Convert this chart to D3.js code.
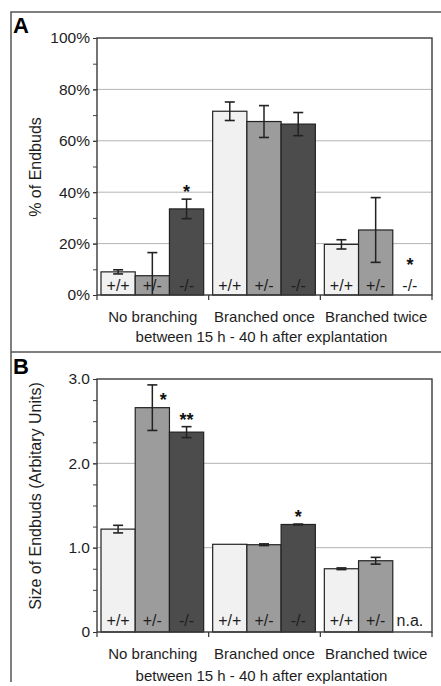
<!DOCTYPE html>
<html>
<head>
<meta charset="utf-8">
<script src="https://cdn.jsdelivr.net/npm/d3@7"></script>
<style>
  body { margin: 0; background: #fff; }
  svg text { font-family: "Liberation Sans", Arial, sans-serif; }
</style>
</head>
<body>
<div id="chart"></div>
<script>
// ----------------------------------------
// DATA
// ----------------------------------------
const categories = ["No branching", "Branched once", "Branched twice"];
const genotypes = ["+/+", "+/-", "-/-"];

const pctValues = [[9.0, 7.5, 33.5], [71.5, 67.5, 66.5], [19.7, 25.3, 0]];
const pctErrors = [[0.8, 9.0, 3.8], [3.6, 6.2, 4.5], [1.8, 12.6, 0]];
const pctStars = [["", "", "*"], ["", "", ""], ["", "", "*"]];
const pctTicks = [0, 20, 40, 60, 80, 100];
const pctTickLabels = ["0%", "20%", "40%", "60%", "80%", "100%"];

const sizeValues = [[1.22, 2.66, 2.37], [1.04, 1.035, 1.275], [0.75, 0.845, null]];
const sizeErrors = [[0.045, 0.27, 0.065], [0, 0.01, 0.005], [0.01, 0.04, null]];
const sizeStars = [["", "*", "**"], ["", "", "*"], ["", "", ""]];
const sizeTicks = [0, 1, 2, 3];
const sizeTickLabels = ["0", "1.0", "2.0", "3.0"];

const xTitle = "between 15 h - 40 h after explantation";


// ----------------------------------------
// SETUP
// ----------------------------------------
const width = 441, height = 686;
const plotLeft = 97, plotRight = 432;
const barFill = ["#f1f1f1", "#9c9c9c", "#4c4c4c"];
const ink = "#1e1e1e";

const svg = d3.select("#chart")
  .append("svg")
  .attr("width", width)
  .attr("height", height);

const xOuter = d3.scaleBand()
  .domain(categories)
  .range([0, plotRight - plotLeft]);

const xInner = d3.scaleBand()
  .domain(genotypes)
  .range([4, xOuter.bandwidth() - 5]);

// figure frame
svg.append("path")
  .attr("d", `M11,682 V12 H${width}`)
  .attr("fill", "none")
  .attr("stroke", "#555")
  .attr("stroke-width", 1.5);

svg.append("line")
  .attr("x1", 11).attr("x2", width)
  .attr("y1", 352).attr("y2", 352)
  .attr("stroke", "#555")
  .attr("stroke-width", 1.5);


// ----------------------------------------
// PANEL
// ----------------------------------------
function drawPanel(cfg) {
  const h = cfg.bottom - cfg.top;
  const w = plotRight - plotLeft;

  const g = svg.append("g")
    .attr("transform", `translate(${plotLeft},${cfg.top})`);

  const y = d3.scaleLinear().domain(cfg.domain).range([h, 0]);

  svg.append("text")
    .attr("x", 13)
    .attr("y", cfg.top - 5)
    .attr("fill", "#000")
    .style("font-size", "22px")
    .style("font-weight", "bold")
    .text(cfg.letter);

  // gridlines
  g.selectAll(".grid")
    .data(cfg.ticks.filter(t => t > cfg.domain[0] && t < cfg.domain[1]))
    .join("line")
    .attr("class", "grid")
    .attr("x1", 0).attr("x2", w)
    .attr("y1", d => y(d)).attr("y2", d => y(d))
    .attr("stroke", "#b4b4b4")
    .attr("stroke-width", 1);

  // minor ticks
  g.append("g")
    .attr("color", "#444")
    .call(d3.axisLeft(y).tickValues(cfg.minor).tickSize(4).tickFormat(""))
    .call(a => a.select(".domain").remove());

  // major ticks + labels
  g.append("g")
    .attr("color", "#333")
    .call(d3.axisLeft(y)
      .tickValues(cfg.ticks)
      .tickSize(4)
      .tickPadding(3)
      .tickFormat((d, i) => cfg.tickLabels[i]))
    .call(a => a.select(".domain").remove())
    .call(a => a.selectAll("text").attr("fill", ink).style("font-size", "15.5px"));

  // bars
  const cells = [];
  categories.forEach((c, i) => {
    genotypes.forEach((gt, j) => {
      cells.push({
        cat: c, gt: gt, j: j,
        value: cfg.values[i][j],
        err: cfg.errors[i][j],
        star: cfg.stars[i][j]
      });
    });
  });

  const cx = d => xOuter(d.cat) + xInner(d.gt) + xInner.bandwidth() / 2;

  g.selectAll(".bar")
    .data(cells.filter(d => d.value !== null && d.value > 0))
    .join("rect")
    .attr("class", "bar")
    .attr("x", d => xOuter(d.cat) + xInner(d.gt))
    .attr("y", d => y(d.value))
    .attr("width", xInner.bandwidth())
    .attr("height", d => y(0) - y(d.value))
    .attr("fill", d => barFill[d.j])
    .attr("stroke", "#222")
    .attr("stroke-width", 1.2);

  // error bars
  const withErr = cells.filter(d => d.value !== null && d.err > 0);
  const errLo = d => y(Math.max(cfg.domain[0], d.value - d.err));
  const errHi = d => y(d.value + d.err);

  g.selectAll(".err")
    .data(withErr)
    .join("line")
    .attr("class", "err")
    .attr("x1", cx).attr("x2", cx)
    .attr("y1", errLo).attr("y2", errHi)
    .attr("stroke", "#222")
    .attr("stroke-width", 1.5);

  g.selectAll(".cap-hi")
    .data(withErr)
    .join("line")
    .attr("class", "cap-hi")
    .attr("x1", d => cx(d) - 5).attr("x2", d => cx(d) + 5)
    .attr("y1", errHi).attr("y2", errHi)
    .attr("stroke", "#222")
    .attr("stroke-width", 1.6);

  g.selectAll(".cap-lo")
    .data(withErr.filter(d => d.value - d.err > cfg.domain[0]))
    .join("line")
    .attr("class", "cap-lo")
    .attr("x1", d => cx(d) - 5).attr("x2", d => cx(d) + 5)
    .attr("y1", errLo).attr("y2", errLo)
    .attr("stroke", "#222")
    .attr("stroke-width", 1.6);

  // plot box + axis lines
  g.append("rect")
    .attr("width", w)
    .attr("height", h)
    .attr("fill", "none")
    .attr("stroke", "#3a3a3a")
    .attr("stroke-width", 1.4);

  // genotype labels inside the bars
  g.selectAll(".gt")
    .data(cells)
    .join("text")
    .attr("class", "gt")
    .attr("x", cx)
    .attr("y", h - cfg.labelOffset)
    .attr("text-anchor", "middle")
    .attr("fill", ink)
    .style("font-size", "16px")
    .text(d => d.value === null ? "n.a." : d.gt);

  // significance stars
  g.selectAll(".star")
    .data(cells.filter(d => d.star))
    .join("text")
    .attr("class", "star")
    .attr("x", d => {
      const tall = d.err && (y(d.value) - errHi(d) > 15);
      return tall ? cx(d) + 11 : cx(d);
    })
    .attr("y", d => {
      if (!d.value) return h - cfg.labelOffset - 20;
      const tall = d.err && (y(d.value) - errHi(d) > 15);
      return tall ? y(d.value) - 2 : errHi(d) - 1;
    })
    .attr("text-anchor", "middle")
    .attr("fill", "#111")
    .style("font-size", "18px")
    .style("font-weight", "bold")
    .text(d => d.star);

  // category boundary ticks
  const bounds = categories.map(c => xOuter(c)).concat([w]);
  g.selectAll(".xtick")
    .data(bounds)
    .join("line")
    .attr("class", "xtick")
    .attr("x1", d => d).attr("x2", d => d)
    .attr("y1", h).attr("y2", h + 5)
    .attr("stroke", "#333")
    .attr("stroke-width", 1.2);

  g.selectAll(".cat")
    .data(categories)
    .join("text")
    .attr("class", "cat")
    .attr("x", d => xOuter(d) + xOuter.bandwidth() / 2)
    .attr("y", h + 27)
    .attr("text-anchor", "middle")
    .attr("fill", ink)
    .style("font-size", "15px")
    .text(d => d);

  g.append("text")
    .attr("x", w / 2 - 3)
    .attr("y", h + cfg.titleOffset)
    .attr("text-anchor", "middle")
    .attr("fill", ink)
    .style("font-size", "15px")
    .text(xTitle);

  // y title
  g.append("text")
    .attr("transform", "rotate(-90)")
    .attr("x", -cfg.yTitleCenter + cfg.top)
    .attr("y", -56)
    .attr("text-anchor", "middle")
    .attr("fill", ink)
    .style("font-size", "16px")
    .text(cfg.yTitle);
}


// ----------------------------------------
// DRAW BOTH PANELS
// ----------------------------------------
drawPanel({
  letter: "A",
  top: 38, bottom: 295,
  domain: [0, 100],
  ticks: pctTicks, tickLabels: pctTickLabels,
  minor: d3.range(0, 101, 10),
  values: pctValues, errors: pctErrors, stars: pctStars,
  labelOffset: 4,
  titleOffset: 47,
  yTitle: "% of Endbuds",
  yTitleCenter: 167
});

drawPanel({
  letter: "B",
  top: 379, bottom: 632,
  domain: [0, 3],
  ticks: sizeTicks, tickLabels: sizeTickLabels,
  minor: d3.range(0, 3.01, 0.25),
  values: sizeValues, errors: sizeErrors, stars: sizeStars,
  labelOffset: 6,
  titleOffset: 49,
  yTitle: "Size of Endbuds (Arbitary Units)",
  yTitleCenter: 496
});
</script>
</body>
</html>
